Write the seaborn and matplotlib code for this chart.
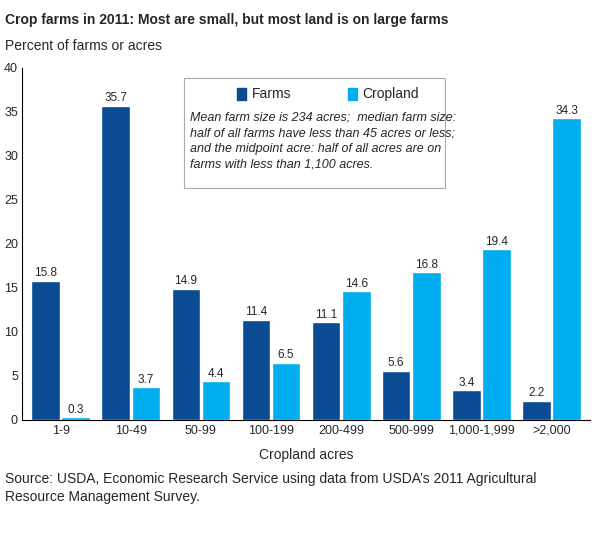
import pandas as pd
import seaborn as sns
import matplotlib.pyplot as plt
from matplotlib.patches import Rectangle

categories = ["1-9", "10-49", "50-99", "100-199", "200-499", "500-999", "1,000-1,999", ">2,000"]
farms = [15.8, 35.7, 14.9, 11.4, 11.1, 5.6, 3.4, 2.2]
cropland = [0.3, 3.7, 4.4, 6.5, 14.6, 16.8, 19.4, 34.3]

df = pd.DataFrame({
    "size": categories * 2,
    "value": farms + cropland,
    "series": ["Farms"] * len(categories) + ["Cropland"] * len(categories),
})

sns.set_style("white")
plt.rcParams["font.family"] = ["Liberation Sans", "DejaVu Sans"]

fig = plt.figure(figsize=(5.99, 5.39), dpi=100)
ax = fig.add_axes([0.037, 0.221, 0.948, 0.653])
sns.barplot(data=df, x="size", y="value", hue="series", ax=ax,
            palette=["#0b4b94", "#00aeef"], saturation=1, width=0.86,
            gap=0.05, legend=False)

for cont in ax.containers:
    ax.bar_label(cont, fmt="%.1f", fontsize=8.5, padding=1)

ax.set_ylim(0, 40)
ax.set_yticks(range(0, 41, 5))
ax.set_xlim(-0.55, 7.55)
ax.set_xlabel("Cropland acres", fontsize=10, labelpad=8)
ax.set_ylabel("")
ax.tick_params(axis="both", labelsize=9, length=0)
ax.tick_params(axis="y", pad=3)
for s in ["top", "right"]:
    ax.spines[s].set_visible(False)
ax.spines["left"].set_color("black")
ax.spines["bottom"].set_color("black")

# annotation box with legend
box = Rectangle((0.285, 0.659), 0.46, 0.313, transform=ax.transAxes,
                facecolor="white", edgecolor="#aaaaaa", lw=0.8, zorder=3)
ax.add_patch(box)
for x, c, lab in [(0.379, "#0b4b94", "Farms"), (0.574, "#00aeef", "Cropland")]:
    ax.add_patch(Rectangle((x, 0.91), 0.016, 0.034, transform=ax.transAxes,
                           color=c, zorder=4))
    ax.text(x + 0.025, 0.927, lab, transform=ax.transAxes, fontsize=10,
            va="center", zorder=4)
ax.text(0.295, 0.875,
        "Mean farm size is 234 acres;  median farm size:\n"
        "half of all farms have less than 45 acres or less;\n"
        "and the midpoint acre: half of all acres are on\n"
        "farms with less than 1,100 acres.",
        transform=ax.transAxes, fontsize=9, style="italic", va="top",
        linespacing=1.4, zorder=4)

fig.text(0.008, 0.975, "Crop farms in 2011: Most are small, but most land is on large farms",
         fontsize=10, weight="bold", va="top")
fig.text(0.008, 0.928, "Percent of farms or acres", fontsize=10, va="top")
fig.text(0.008, 0.125, "Source: USDA, Economic Research Service using data from USDA\u2019s 2011 Agricultural\n"
         "Resource Management Survey.", fontsize=10, va="top", linespacing=1.4)

fig.savefig("out.png", dpi=100)
